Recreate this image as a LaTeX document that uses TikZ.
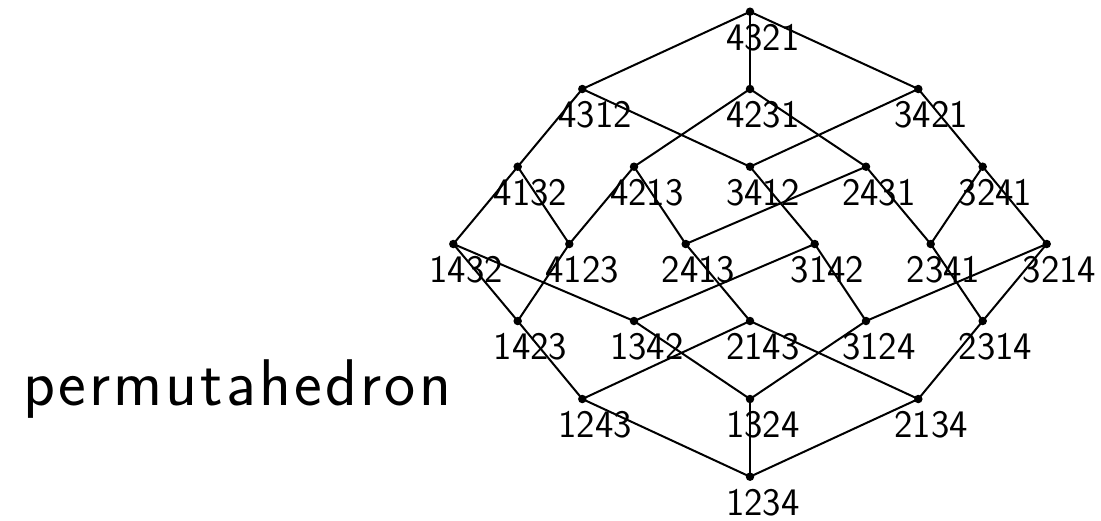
\documentclass[tikz,border=0pt]{standalone}
\begin{document}
\begin{tikzpicture}[x=1pt,y=-1pt,
  dot/.style={circle,fill=black,inner sep=0pt,minimum size=8.5pt},
  lab/.style={anchor=base west,inner sep=0pt,font=\sffamily\fontsize{39}{40}\selectfont},
  edge/.style={line width=2pt}]
\useasboundingbox (0,0) rectangle (1101,520);
\foreach \n/\x/\y in {4321/750/11.7,
  4312/582.3/89,4231/750/89,3421/918.3/89,
  4132/517.7/166.7,4213/634/166.7,3412/750/166.7,2431/866/166.7,3241/982.7/166.7,
  1432/453.3/244,4123/569.3/244,2413/685.7/244,3142/814.7/244,2341/930.7/244,3214/1046.7/244,
  1423/517.7/321,1342/634/321,2143/750/321,3124/866/321,2314/982.7/321,
  1243/582.3/399,1324/750/399,2134/918.3/399,
  1234/750/476.7}{
  \node[dot] (n\n) at (\x,\y) {};
  \node[lab] (l\n) at (\x-24,\y+38.5) {\n};
}
\foreach \a/\b in {1234/2134,1234/1324,1234/1243,
  2134/2314,2134/2143,1324/3124,1324/1342,1243/2143,1243/1423,
  2314/3214,2314/2341,2143/2413,3124/3142,3124/3214,1342/3142,1342/1432,1423/4123,1423/1432,
  3214/3241,2341/3241,2341/2431,2413/4213,2413/2431,3142/3412,4123/4213,4123/4132,1432/4132,
  3241/3421,2431/4231,3412/4312,3412/3421,4213/4231,4132/4312,
  4312/4321,4231/4321,3421/4321}{
  \draw[edge] (n\a.center) -- (n\b.center);
}
\node[anchor=base west,inner sep=0pt,font=\sffamily\fontsize{66}{68}\selectfont] (title) at (23,405)
  {p\kern3.2pt e\kern3.2pt r\kern3.2pt m\kern3.2pt u\kern3.2pt t\kern3.2pt a\kern3.2pt h\kern3.2pt e\kern3.2pt d\kern3.2pt r\kern3.2pt o\kern3.2pt n};
\end{tikzpicture}
\end{document}
